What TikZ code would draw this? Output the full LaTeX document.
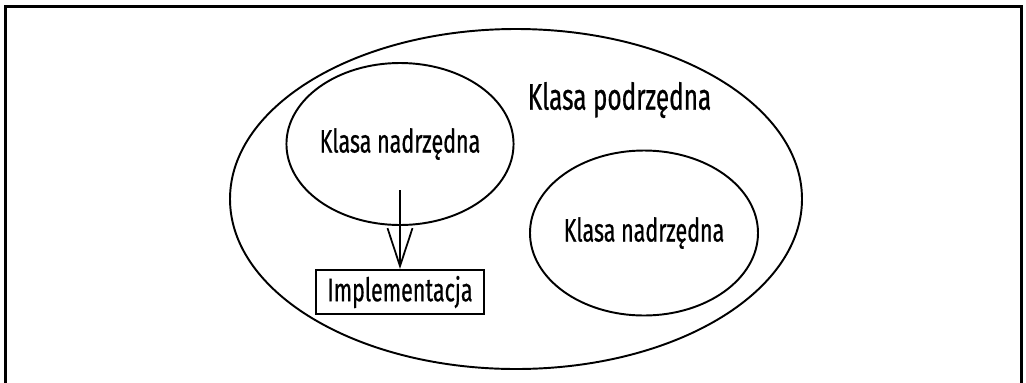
\documentclass[tikz,border=0pt]{standalone}
\usepackage{fontspec}
\newfontfamily\handfont[FakeStretch=0.66, FakeBold=0.6]{Fira Sans}
\usetikzlibrary{shapes.geometric, positioning, arrows.meta}
\begin{document}
\begin{tikzpicture}[
            set/.style={ellipse, draw, line width=1.1pt, inner sep=0pt, font=\handfont\fontsize{18.5}{21}\selectfont},
            impl/.style={rectangle, draw, line width=1.2pt, minimum width=3.36cm, minimum height=0.78cm, font=\handfont\fontsize{18.5}{21}\selectfont},
            title/.style={font=\handfont\fontsize{21}{24}\selectfont}
        ]
        \useasboundingbox (0,0) rectangle (20.52,-7.64);
        \draw[line width=1.4pt] (0.11,-7.9) -- (0.11,-0.13) -- (20.43,-0.13) -- (20.43,-7.9);
        \node[set, minimum width=11.44cm, minimum height=6.8cm] (sub) at (10.32,-3.98) {};
        \node[title] (subtext) at (12.39,-2.0) {Klasa podrzędna};
        \node[set, minimum width=4.52cm, minimum height=3.24cm] (sup1) at (8.0,-2.88) {Klasa nadrzędna};
        \node[set, minimum width=4.56cm, minimum height=3.3cm] (sup2) at (12.88,-4.66) {Klasa nadrzędna};
        \node[impl] (impl) at (8.0,-5.84) {Implementacja};
        \coordinate[below=0.92cm of sup1.center] (tail);
        \draw[-{Straight Barb[length=0.76cm, width=0.5cm]}, line width=1pt] (tail) -- (impl.north);
        \end{tikzpicture}
\end{document}
